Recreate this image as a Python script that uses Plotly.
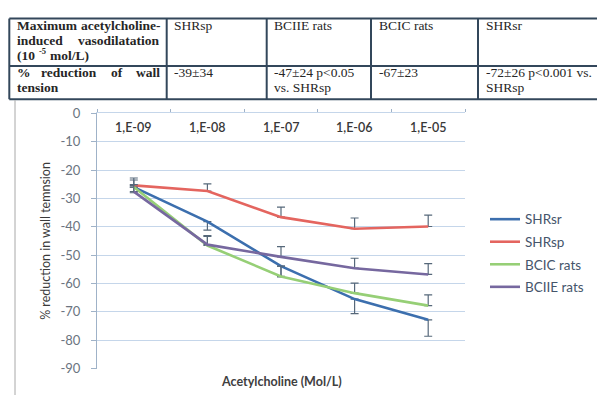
import plotly.graph_objects as go

# ---- data -------------------------------------------------------------
concentrations = ["1,E-09", "1,E-08", "1,E-07", "1,E-06", "1,E-05"]

shrsr = [-26, -38.2, -53.9, -65.5, -72.8]
shrsr_err = [2.0, 3.0, 3.8, 5.1, 5.8]          # drawn downward

shrsp = [-25.4, -27.4, -36.6, -40.7, -39.9]
shrsp_err = [2.6, 2.5, 3.5, 3.8, 4.0]          # drawn upward

bcic = [-26, -46.6, -57.5, -63.4, -67.8]
bcic_err = [2.5, 3.2, 3.6, 3.5, 3.8]           # drawn upward

bciie = [-27.6, -46.3, -50.6, -54.6, -56.8]
bciie_err = [2.5, 3.2, 3.6, 3.5, 3.8]          # drawn upward

y_ticks = [0, -10, -20, -30, -40, -50, -60, -70, -80, -90]
y_tick_labels = ["0", "-10", "-20", "-30", "-40", "-50", "-60", "-70", "-80", "-90"]

table_groups = ["SHRsp", "BCIIE rats", "BCIC rats", "SHRsr"]
table_values = [["-39±34"], ["-47±24 p<0.05", "vs. SHRsp"], ["-67±23"],
                ["-72±26 p<0.001 vs.", "SHRsp"]]

# ---- page geometry (pixels) ---------------------------------------------
W, H = 597, 403


def px(x):
    return x / W


def py(y):
    return 1 - y / H


fig = go.Figure()

series = [
    ("SHRsr", shrsr, shrsr_err, "#3c6fae", "down"),
    ("SHRsp", shrsp, shrsp_err, "#e4655f", "up"),
    ("BCIC rats", bcic, bcic_err, "#96cf76", "up"),
    ("BCIIE rats", bciie, bciie_err, "#76689f", "up"),
]

for name, vals, err, color, direction in series:
    zeros = [0] * len(err)
    fig.add_trace(go.Scatter(
        x=concentrations, y=vals, name=name, mode="lines",
        legendgroup=name,
        line=dict(color=color, width=2.6),
        error_y=dict(
            type="data", symmetric=False,
            array=err if direction == "up" else zeros,
            arrayminus=err if direction == "down" else zeros,
            color="#56687a", thickness=1.2, width=4,
        ),
    ))

grid_col = "#c5d6ea"
axis_col = "#9fb2c8"

fig.update_layout(
    width=W, height=H,
    margin=dict(l=0, r=0, t=0, b=0),
    paper_bgcolor="white", plot_bgcolor="white",
    font=dict(family="Lato, Carlito, sans-serif", color="#404040"),
    xaxis=dict(
        domain=[px(97), px(465)],
        type="category", range=[-0.5, 4.5],
        side="top", showticklabels=False,
        ticks="outside", ticklen=3, tickcolor=axis_col, tickson="boundaries",
        showline=True, linecolor=grid_col, linewidth=1,
        showgrid=False, zeroline=False,
    ),
    yaxis=dict(
        domain=[py(375.5), py(109.7)],
        range=[-90, 0],
        tickvals=y_ticks, ticktext=y_tick_labels,
        ticks="outside", ticklen=5, tickcolor=axis_col,
        ticklabelstandoff=8,
        showline=True, linecolor=axis_col, linewidth=1,
        showgrid=True, gridcolor=grid_col, gridwidth=1,
        zeroline=False,
        tickfont=dict(size=13, color="#6b7480"),
        title=dict(text="% reduction in wall temnsion", standoff=7,
                   font=dict(size=12.5, color="#3a3a3a")),
    ),
    legend=dict(
        x=px(485), y=py(204), xanchor="left", yanchor="top",
        font=dict(size=13.5, color="#45556b"),
        tracegroupgap=2, bgcolor="rgba(0,0,0,0)",
    ),
    showlegend=True,
)

# concentration labels sit just under the top (zero) axis line
for c in concentrations:
    fig.add_annotation(
        text=c, x=c, xref="x", y=py(124), yref="paper",
        showarrow=False, xanchor="center", yanchor="middle",
        font=dict(size=12.5, color="#383838", weight=600),
    )

# x-axis title below the plot area
fig.add_annotation(
    text="<b>Acetylcholine (Mol/L)</b>", x=px(281), y=py(389),
    xref="paper", yref="paper", showarrow=False,
    font=dict(size=12.5, color="#404040"),
    xanchor="center", yanchor="middle",
)

# ---- table above the chart -------------------------------------------
line_col = "#33475b"
col_edges = [9.3, 166.7, 266.7, 371, 478, 600]
row_edges = [11, 60.5, 95]
shapes = []
for yy in row_edges:
    shapes.append(dict(type="line", xref="paper", yref="paper",
                       x0=px(col_edges[0]), x1=px(col_edges[-1]),
                       y0=py(yy), y1=py(yy),
                       line=dict(color=line_col, width=2)))
for xx in col_edges[:-1]:
    shapes.append(dict(type="line", xref="paper", yref="paper",
                       x0=px(xx), x1=px(xx),
                       y0=py(row_edges[0]), y1=py(row_edges[-1]),
                       line=dict(color=line_col, width=2)))
# left edge of the chart area below the table
shapes.append(dict(type="line", xref="paper", yref="paper",
                   x0=px(15), x1=px(15), y0=py(96), y1=0,
                   line=dict(color="#a8a8a8", width=1)))
fig.update_layout(shapes=shapes)

serif = "Liberation Serif, Times New Roman, serif"
TFONT = 13.5


def char_w(c, bold):
    wide = "MWmw%"
    narrow = "iljtfr.,:;()-|"
    if c in wide:
        w = 0.85
    elif c in narrow:
        w = 0.33
    elif c.isupper():
        w = 0.70
    else:
        w = 0.52
    return w * TFONT * (1.04 if bold else 1.0)


def add_text(text, x, y, bold=False, anchor="left", size=TFONT):
    fig.add_annotation(
        text=f"<b>{text}</b>" if bold else text,
        x=px(x), y=py(y), xref="paper", yref="paper", showarrow=False,
        xanchor=anchor, yanchor="middle",
        font=dict(family=serif, size=size, color="#262626"),
    )


def add_justified(words, x0, x1, y, bold=True):
    widths = [sum(char_w(c, bold) for c in w) for w in words]
    gap = (x1 - x0 - sum(widths)) / (len(words) - 1)
    pos = x0
    for i, (w, ww) in enumerate(zip(words, widths)):
        if i == len(words) - 1:
            add_text(w, x1, y, bold, "right")
        else:
            add_text(w, pos, y, bold, "left")
        pos += ww + gap


c0, c1 = 15, 162
add_justified(["Maximum", "acetylcholine-"], c0, c1, 18.5)
add_justified(["induced", "vasodilatation"], c0, c1, 33.5)
# "(10^-5 mol/L)" set as three pieces so the exponent stays small and raised
add_text("(10", c0, 49, bold=True)
add_text("-5", 36.5, 44.5, bold=True, size=8.5)
add_text("mol/L)", 48, 49, bold=True)
add_justified(["%", "reduction", "of", "wall"], c0, c1, 67)
add_text("tension", c0, 83, bold=True)

for i, (grp, vals) in enumerate(zip(table_groups, table_values)):
    x_left = col_edges[i + 1] + 5.5
    add_text(grp, x_left, 18.5)
    for j, v in enumerate(vals):
        add_text(v, x_left, 67 + 16 * j)

fig.write_html("out.html")
